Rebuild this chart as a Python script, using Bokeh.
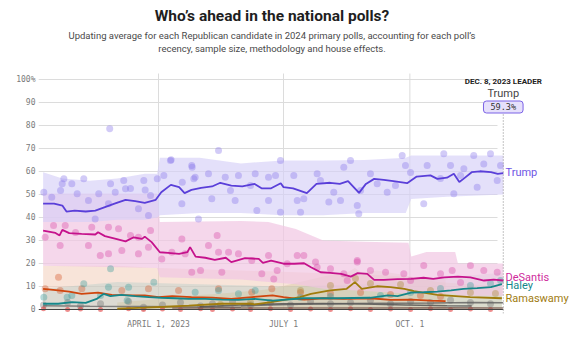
from bokeh.plotting import figure
from bokeh.models import Range1d, FixedTicker, Label
from bokeh.core.properties import value
from bokeh.embed import file_html
from bokeh.resources import INLINE

# ---------------- data (day index: days since Jan 1, 2023) ----------------
tick_days = [90, 181, 273]
tick_labels = ["APRIL 1, 2023", "JULY 1", "OCT. 1"]
y_ticks = [0, 10, 20, 30, 40, 50, 60, 70, 80, 90, 100]
leader_day = 341

trump_days = [6, 14, 20, 23, 29, 37, 44, 51, 58, 66, 73, 80, 88, 92, 99, 105, 109, 114, 121, 129,
              135, 143, 151, 160, 165, 172, 179, 181, 188, 198, 205, 215, 222, 228, 236, 241, 247,
              254, 261, 271, 278, 288, 293, 300, 305, 309, 312, 318, 324, 332, 337, 341]
trump_vals = [46.0, 46.0, 45.2, 42.6, 43.0, 42.6, 43.0, 44.5, 46.0, 47.7, 47.1, 46.4, 47.7, 51.0,
              54.2, 53.2, 50.6, 52.0, 52.9, 53.5, 55.1, 53.9, 53.5, 54.6, 52.7, 52.7, 54.9, 53.2,
              52.7, 50.6, 54.6, 55.1, 54.6, 55.8, 50.7, 54.6, 56.8, 56.4, 55.8, 54.9, 57.8, 58.3,
              56.8, 57.3, 59.0, 55.4, 56.8, 59.7, 60.1, 59.7, 59.0, 59.3]
trump_band_days = [6, 20, 40, 60, 80, 89, 91, 120, 150, 180, 210, 240, 270, 274, 300, 341]
trump_band_lo = [38, 38, 38, 39, 39, 40, 41, 42, 42, 41, 41, 42, 42, 48, 49, 50]
trump_band_hi = [59.7, 57, 56, 57, 59, 59, 66, 66, 63.5, 64.8, 64.8, 65, 66, 67, 67, 67]

desantis_days = [6, 15, 18, 20, 25, 34, 44, 46, 51, 59, 66, 72, 78, 80, 85, 91, 97, 105, 111, 113,
                 117, 124, 131, 139, 143, 153, 163, 166, 172, 181, 189, 196, 201, 208, 215, 223,
                 230, 235, 242, 247, 254, 264, 274, 283, 290, 298, 308, 317, 327, 334, 341]
desantis_vals = [34.3, 33.3, 32.2, 34.6, 33.2, 32.9, 32.6, 33.6, 31.9, 30.7, 29.6, 31.4, 30.7, 31.7,
                 29.3, 24.9, 24.6, 24.2, 24.9, 27.1, 23.0, 22.5, 21.6, 22.5, 20.6, 22.3, 22.0, 20.3,
                 21.3, 19.9, 19.9, 20.1, 18.4, 16.2, 15.9, 15.5, 14.3, 15.8, 15.5, 12.9, 12.9, 13.2,
                 13.3, 13.8, 13.3, 14.0, 14.3, 14.0, 12.6, 13.0, 12.6]
desantis_band_days = [6, 89, 91, 150, 170, 190, 210, 240, 272, 274, 285, 306, 308, 341]
desantis_band_lo = [19, 18, 14, 13, 12, 11, 9, 8, 7, 7, 7, 7, 6, 6]
desantis_band_hi = [50.4, 50.4, 38, 38.5, 38, 35, 30, 29.5, 29, 23, 25, 25, 20, 20]

haley_days = [6, 17, 27, 37, 45, 50, 55, 63, 73, 83, 92, 102, 112, 124, 136, 148, 160, 173, 196,
              220, 244, 257, 264, 274, 283, 293, 303, 312, 322, 332, 340]
haley_vals = [2.5, 2.5, 3.2, 2.9, 4.6, 6.8, 5.8, 6.4, 5.8, 5.4, 5.1, 4.9, 4.6, 4.6, 4.3, 4.2, 4.6,
              3.9, 4.9, 4.9, 5.1, 6.1, 5.8, 7.3, 7.5, 7.8, 8.3, 9.0, 9.3, 9.7, 11.0]
haley_band_days = [6, 60, 120, 180, 240, 300, 340]
haley_band_hi = [9, 12, 11, 10, 11, 14, 16]

rama_days = [60, 80, 95, 112, 136, 157, 160, 172, 186, 193, 201, 215, 227, 233, 238, 249, 259, 269,
             276, 293, 317, 340]
rama_vals = [0.4, 0.8, 1.2, 1.7, 2.5, 2.5, 2.2, 3.2, 4.6, 5.4, 6.8, 8.3, 9.0, 11.9, 9.0, 10.1, 9.7,
             9.0, 8.0, 6.4, 5.4, 4.9]
rama_band_hi = [3, 4, 5, 6, 7, 8, 8, 9, 11, 12, 13, 15, 16, 18, 16, 17, 16, 15, 14, 12, 11, 10]

pence_days = [6, 17, 25, 34, 46, 56, 71, 80, 90, 100, 114, 129, 143, 158, 173, 181, 196, 210, 225,
              244, 259, 274, 288, 299]
pence_vals = [9.0, 8.3, 7.8, 6.8, 7.3, 6.4, 6.1, 6.1, 5.4, 5.8, 5.4, 5.2, 4.6, 5.4, 6.1, 5.4, 4.3,
              4.9, 4.6, 4.9, 4.2, 4.3, 3.9, 3.6]
pence_band_days = [6, 60, 90, 150, 200, 250, 299]
pence_band_hi = [19, 19, 18, 17, 16, 15, 13]

christie_days = [150, 170, 200, 230, 260, 290, 320, 341]
christie_vals = [1.5, 2.0, 2.4, 2.6, 2.7, 2.8, 3.0, 2.9]
scott_days = [120, 150, 180, 210, 240, 270, 300, 318]
scott_vals = [1.2, 2.0, 2.5, 2.6, 2.4, 2.0, 1.6, 1.5]
hutch_days = [100, 150, 200, 250, 300, 341]
hutch_vals = [0.6, 0.7, 0.6, 0.7, 0.8, 0.7]
other_days = [6, 40, 80, 120, 150]
other_vals = [1.6, 1.4, 1.3, 1.1, 1.0]

trump_dot_days = [54.5, 6.5, 19.9, 21.1, 35.6, 30.8, 46.5, 55.1, 64.7, 66.0, 79.3, 89.1, 93.9, 98.7,
                  107.3, 114.5, 115.7, 133.7, 99.2, 114.2, 26.9, 80.3, 58.5, 116.7, 126.4, 138.6,
                  148.2, 160.4, 170.1, 128.8, 145.8, 170.1, 107.0, 119.1, 161.6, 75.4, 82.7, 43.9,
                  53.6, 12.3, 178.8, 297.7, 319.5, 331.7, 267.4, 269.8, 224.9, 229.8, 205.5, 188.5,
                  175.2, 244.3, 285.6, 302.6, 312.3, 326.8, 339.0, 191.0, 195.8, 214.0, 222.5, 234.7,
                  235.8, 256.5, 283.1, 305.0, 322.0, 336.6, 249.2, 217.6, 178.8, 193.4, 157.0,
                  207.9, 295.3, 309.9, 262.5, 273.5, 237.1, 142.4, 84.2, 18.7, 39.0, 69.6]
trump_dot_vals = [78.6, 51.0, 54.7, 56.8, 56.8, 50.3, 50.3, 54.7, 56.1, 52.5, 56.1, 56.8, 58.3, 64.8,
                  55.3, 61.9, 56.8, 69.1, 65.1, 62.6, 54.7, 52.0, 51.0, 57.5, 59.0, 57.5, 58.3, 59.0,
                  57.5, 48.1, 47.4, 47.4, 46.0, 39.4, 43.0, 43.8, 40.9, 39.4, 46.0, 48.8, 64.8, 67.7,
                  67.0, 67.7, 67.0, 62.6, 61.9, 64.8, 59.0, 58.3, 58.3, 59.0, 62.6, 62.6, 61.2, 63.3,
                  62.6, 47.4, 48.1, 46.7, 47.4, 45.2, 41.6, 51.0, 46.0, 50.3, 53.2, 56.1, 54.7, 51.0,
                  42.3, 42.3, 53.9, 56.1, 57.0, 58.3, 53.9, 59.6, 51.7, 51.7, 49.6, 51.7, 47.4, 52.6]

desantis_dot_days = [13.6, 22.1, 41.4, 53.6, 60.9, 18.4, 39.0, 47.6, 53.6, 63.3, 75.4, 82.7, 75.4,
                     92.4, 99.7, 107.0, 109.4, 114.2, 126.4, 133.7, 141.0, 136.1, 148.2, 157.9,
                     165.2, 170.1, 7.5, 195.8, 191.0, 234.7, 205.5, 215.2, 244.3, 255.3, 283.1,
                     303.8, 317.1, 326.8, 336.6, 224.9, 268.6, 295.3, 176.4, 183.7, 132.7, 173.9,
                     227.4, 234.7, 204.3, 29.6, 69.6, 84.2, 120.6, 273.5, 309.9]
desantis_dot_vals = [36.5, 36.5, 35.8, 35.8, 35.1, 27.8, 27.8, 23.5, 24.2, 25.7, 24.2, 27.1, 31.4,
                     22.0, 24.9, 30.7, 24.2, 16.2, 27.8, 24.9, 24.9, 16.2, 24.2, 21.3, 15.5, 23.5,
                     31.4, 23.5, 23.5, 21.3, 18.4, 17.7, 17.0, 16.2, 19.1, 17.0, 19.1, 17.0, 16.2,
                     15.5, 15.5, 15.5, 17.0, 19.9, 32.2, 13.3, 12.6, 20.6, 20.6, 33.5, 32.2, 34.3,
                     17.0, 12.6, 11.7]

haley_dot_days = [35.6, 55.1, 86.6, 6.5, 23.5, 47.8, 67.2, 53.6, 68.2, 26.9, 116.7, 133.7, 148.2,
                  160.4, 295.3, 317.1, 331.7, 273.5, 251.6, 215.2, 193.4, 339.0]
haley_dot_vals = [11.2, 17.7, 11.9, 5.3, 5.3, 6.1, 3.9, 9.7, 9.7, 6.1, 7.5, 8.3, 6.8, 8.3, 9.1,
                  10.4, 11.3, 7.4, 6.1, 5.7, 5.2, 12.6]

pence_dot_days = [7.5, 18.4, 34.2, 63.3, 82.7, 104.6, 133.7, 157.9, 172.5, 193.4, 215.2, 237.1,
                  258.9, 280.7, 295.3, 17.2]
pence_dot_vals = [9.0, 8.3, 9.0, 8.3, 9.0, 8.3, 9.0, 7.5, 9.0, 7.4, 7.0, 7.4, 6.5, 6.1, 5.7, 14.0]

rama_dot_days = [193.4, 215.2, 233.4, 244.3, 266.2, 288.0, 317.1, 335.3, 157.0, 135.1]
rama_dot_vals = [8.3, 10.4, 13.5, 11.3, 10.9, 8.3, 7.4, 7.0, 3.0, 2.2]

minor_dot_days = [6.3, 23.8, 33.2, 47.8, 68.2, 79.1, 92.9, 106.0, 120.6, 129.3, 143.9, 157.0,
                  171.5, 186.1, 200.7, 215.2, 229.8, 244.3, 258.9, 273.5, 288.0, 302.6, 317.1,
                  331.7]
minor_dot_vals = [0.3, 0.0, 0.2, 0.0, 0.3, 0.0, 0.2, 0.0, 0.3, 0.0, 0.2, 0.0, 0.3, 0.0, 0.2, 0.0,
                  0.3, 0.0, 0.2, 0.0, 0.3, 0.0, 0.2, 0.0]
gray_dot_vals = [2.0, 3.0, 1.5, 2.5, 3.5, 1.0, 2.0, 3.0, 1.5, 2.5, 3.5, 2.0, 3.0, 2.0, 3.5, 2.5,
                 3.0, 4.0, 2.5, 3.5, 3.0, 4.0, 3.0, 2.5]

# ---------------- geometry helpers (pixel placement of annotations) ----------------
PXD = 1.3736           # pixels per day
PXV = 2.3              # pixels per percentage point
FRAME_LEFT = 38
X0 = 90 - (158 - FRAME_LEFT) / PXD


def dx(px):
    return X0 + (px - FRAME_LEFT) / PXD


def vy(py):
    return (309 - py) / PXV


W, H = 577, 337
p = figure(width=W, height=H, output_backend="svg", toolbar_location=None, title=None,
           x_range=Range1d(X0, X0 + (W - FRAME_LEFT) / PXD),
           y_range=Range1d(vy(313), vy(0)),
           min_border_left=FRAME_LEFT, min_border_right=0, min_border_top=0, min_border_bottom=24)
p.outline_line_color = None
p.grid.visible = False
p.background_fill_color = "white"
p.border_fill_color = "white"

# axes
xa = p.xaxis[0]
xa.ticker = FixedTicker(ticks=tick_days)
xa.major_label_overrides = {d: t for d, t in zip(tick_days, tick_labels)}
ya = p.yaxis[0]
ya.ticker = FixedTicker(ticks=y_ticks)
ya.major_label_overrides = {v: (f"{v}%" if v == 100 else str(v)) for v in y_ticks}
for ax in (xa, ya):
    ax.axis_line_color = None
    ax.major_tick_line_color = None
    ax.minor_tick_line_color = None
    ax.major_tick_out = 0
    ax.major_tick_in = 0
    ax.minor_tick_out = 0
    ax.minor_tick_in = 0
    ax.major_label_text_font = "DejaVu Sans Mono"
    ax.major_label_text_font_size = "8px"
    ax.major_label_text_color = "#7a7a7a"
xa.major_label_standoff = 6
ya.major_label_standoff = 3

grid_end = dx(497)
p.segment(x0=[X0] * len(y_ticks[1:]), y0=y_ticks[1:], x1=[grid_end] * len(y_ticks[1:]), y1=y_ticks[1:],
          line_color="#dcdcdc", line_width=1)
p.segment(x0=tick_days, y0=[0] * 3, x1=tick_days, y1=[vy(73)] * 3, line_color="#dcdcdc", line_width=1)

# bands
p.varea(x=pence_band_days, y1=[0] * len(pence_band_days), y2=pence_band_hi, fill_color="#f2cdb9", fill_alpha=0.55)
p.varea(x=haley_band_days, y1=[0] * len(haley_band_days), y2=haley_band_hi, fill_color="#a9c9c6", fill_alpha=0.35)
p.varea(x=rama_days, y1=[0] * len(rama_days), y2=rama_band_hi, fill_color="#cdbf96", fill_alpha=0.35)
p.varea(x=desantis_band_days, y1=desantis_band_lo, y2=desantis_band_hi, fill_color="#f1c6e3", fill_alpha=0.7)
p.varea(x=trump_band_days, y1=trump_band_lo, y2=trump_band_hi, fill_color="#d6cff8", fill_alpha=0.65)

# dots
dot = dict(size=7, line_color=None, fill_alpha=0.38)
p.scatter(minor_dot_days, gray_dot_vals, fill_color="#6e6e6e", **dot)
p.scatter(pence_dot_days, pence_dot_vals, fill_color="#d4572a", **dot)
p.scatter(haley_dot_days, haley_dot_vals, fill_color="#3a9a9a", **dot)
p.scatter(rama_dot_days, rama_dot_vals, fill_color="#a88a30", **dot)
p.scatter(desantis_dot_days, desantis_dot_vals, fill_color="#d84aa8", **dot)
p.scatter(trump_dot_days, trump_dot_vals, fill_color="#8a76ea", **dot)
p.scatter(minor_dot_days, minor_dot_vals, fill_color="#e03030", size=5, line_color=None, fill_alpha=0.55)

# baseline
p.segment(x0=[X0], y0=[0], x1=[leader_day], y1=[0], line_color="#444444", line_width=1.2)

# lines
p.line(other_days, other_vals, line_color="#6a6a6a", line_width=1.5, line_alpha=0.8)
p.line(hutch_days, hutch_vals, line_color="#7a5a50", line_width=1.5, line_alpha=0.8)
p.line(scott_days, scott_vals, line_color="#4f4f4f", line_width=1.5, line_alpha=0.8)
p.line(christie_days, christie_vals, line_color="#5e5e5e", line_width=1.5, line_alpha=0.8)
p.line(pence_days, pence_vals, line_color="#d0460e", line_width=1.8)
p.line(rama_days, rama_vals, line_color="#a07c0c", line_width=1.8)
p.line(haley_days, haley_vals, line_color="#15878a", line_width=1.8)
p.line(desantis_days, desantis_vals, line_color="#c5128c", line_width=1.8)
p.line(trump_days, trump_vals, line_color="#5a3fd9", line_width=1.8)

# leader marker
p.segment(x0=[leader_day], y0=[vy(313)], x1=[leader_day], y1=[vy(106)], line_color="#888888",
          line_width=1, line_dash="1 2")

# end labels
lab_x = dx(505)
end_labels = ["Trump", "DeSantis", "Haley", "Ramaswamy"]
end_colors = ["#6e55e4", "#cf2a9c", "#16878b", "#a07c10"]
end_y = [vy(172), vy(277), vy(285), vy(298)]
p.text(x=[lab_x] * 4, y=end_y, text=end_labels, text_color=end_colors, text_font=value("Roboto"),
       text_font_size="11px", text_align="left", text_baseline="middle")

# header texts
cx = dx(271.5)
p.text(x=[cx], y=[vy(15)], text=["Who\u2019s ahead in the national polls?"], text_font=value("Roboto"),
       text_font_size="15.5px", text_font_style="bold", text_color="#1e1e1e", text_align="center",
       text_baseline="middle")
p.text(x=[cx, cx], y=[vy(35), vy(48)],
       text=["Updating average for each Republican candidate in 2024 primary polls, accounting for each poll\u2019s",
             "recency, sample size, methodology and house effects."],
       text_font=value("Roboto"), text_font_size="9.5px", text_color="#4a4a4a", text_align="center",
       text_baseline="middle")

p.text(x=[leader_day], y=[vy(81)], text=["DEC. 8, 2023 LEADER"], text_font=value("Roboto"),
       text_font_size="8px", text_font_style="bold", text_color="#222222", text_align="center",
       text_baseline="middle")
p.text(x=[leader_day], y=[vy(92.5)], text=["Trump"], text_font=value("Roboto"), text_font_size="11px",
       text_color="#444444", text_align="center", text_baseline="middle")
p.add_layout(Label(x=leader_day, y=vy(106.5), text=f"{trump_vals[-1]:.1f}%", text_font="DejaVu Sans Mono",
                   text_font_size="8.5px", text_color="#333333", text_align="center", text_baseline="middle",
                   background_fill_color="#e6e0fb", border_line_color="#7b62e6", border_line_width=1,
                   border_radius=3, padding=(7, 1)))

open("out.html", "w").write(file_html(p, INLINE))
